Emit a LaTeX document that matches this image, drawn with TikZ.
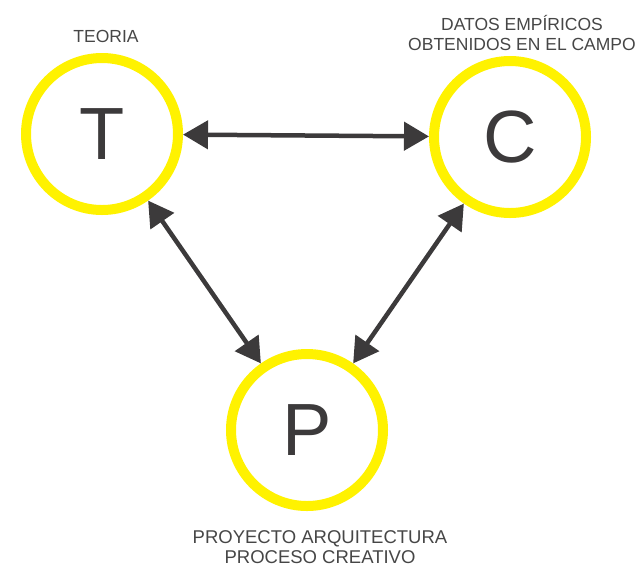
\documentclass[tikz,border=0pt]{standalone}
\usepackage{fontspec}
\setmainfont{Liberation Sans}
\usetikzlibrary{arrows.meta}
\definecolor{ring}{RGB}{255,242,0}
\definecolor{ink}{RGB}{60,58,59}
\definecolor{lbl}{RGB}{70,70,70}
\begin{document}
\begin{tikzpicture}[x=1pt,y=-1pt,
  ringnode/.style={circle,draw=ring,line width=10pt,minimum size=152pt,inner sep=0pt,
    text=ink,font=\fontsize{74}{74}\selectfont},
  lblnode/.style={text=lbl,font=\fontsize{17.5}{20}\selectfont,align=center,inner sep=0pt},
  link/.style={draw=ink,line width=4.5pt,{Triangle[length=25pt,width=28pt]}-{Triangle[length=25pt,width=28pt]}}]
\useasboundingbox (0,0) rectangle (639,566);
\node[ringnode] (T) at (102,134) {T};
\node[ringnode] (C) at (510,137) {C};
\node[ringnode] (P) at (307,430) {P};
\node[lblnode] (tl) at (106,36) {TEORIA};
\node[lblnode] (cl) at (522,33) {DATOS EMPÍRICOS\\OBTENIDOS EN EL CAMPO};
\node[lblnode,font=\fontsize{18.5}{20}\selectfont] (pl) at (320,547) {PROYECTO ARQUITECTURA\\PROCESO CREATIVO};
\draw[link] (T) -- (C);
\draw[link] (T) -- (P);
\draw[link] (C) -- (P);
\end{tikzpicture}
\end{document}
